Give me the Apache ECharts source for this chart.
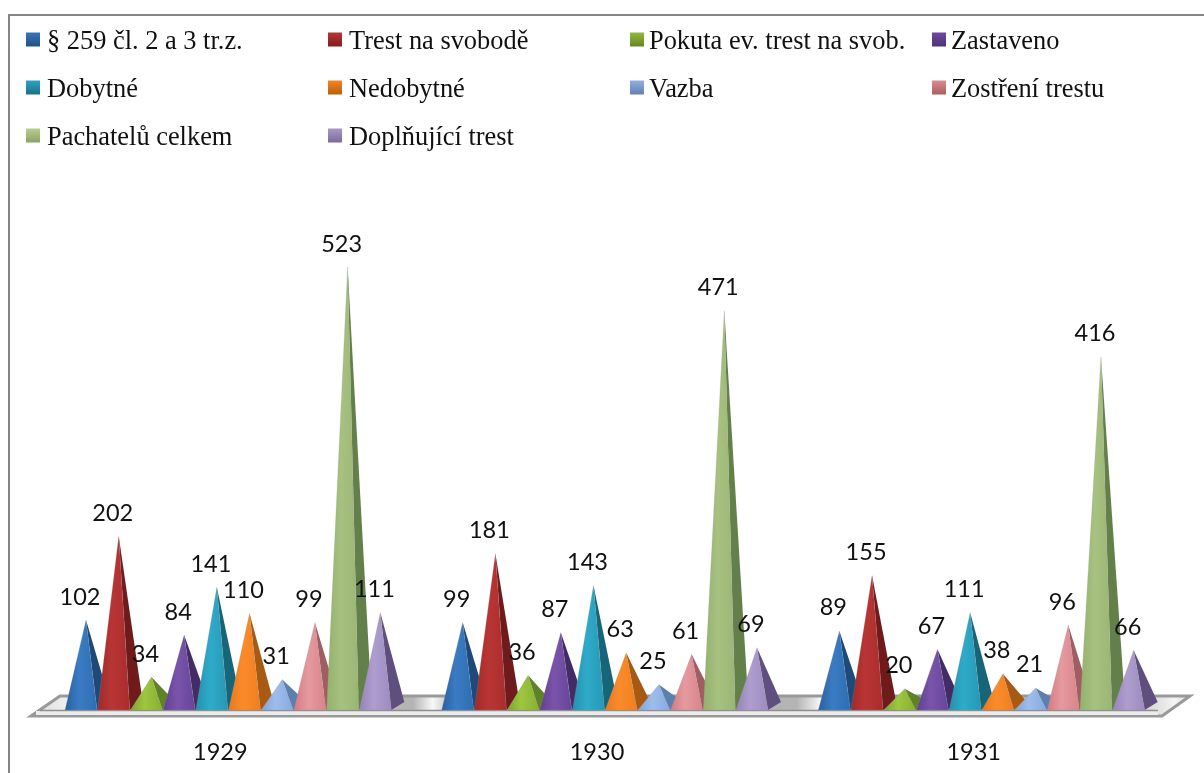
<!DOCTYPE html>
<html><head><meta charset="utf-8">
<style>html,body{margin:0;padding:0;background:#fff}#c{width:1204px;height:773px}</style>
<script src="https://cdn.jsdelivr.net/npm/echarts@6/dist/echarts.min.js"></script>
</head><body><div id="c"></div>
<script>
const years = ['1929','1930','1931'];
const seriesNames = ['§ 259 čl. 2 a 3 tr.z.','Trest na svobodě','Pokuta ev. trest na svob.','Zastaveno','Dobytné','Nedobytné','Vazba','Zostření trestu','Pachatelů celkem','Doplňující trest'];
const paragraf = [102,99,89];
const trest = [202,181,155];
const pokuta = [34,36,20];
const zastaveno = [84,87,67];
const dobytne = [141,143,111];
const nedobytne = [110,63,38];
const vazba = [31,25,21];
const zostreni = [99,61,96];
const pachatelu = [523,471,416];
const doplnujici = [111,69,66];
const values = [paragraf,trest,pokuta,zastaveno,dobytne,nedobytne,vazba,zostreni,pachatelu,doplnujici];
const palette = [
 ['#2a5f9e','#3a7cc4','#2f6cb0','#1d4a78'],
 ['#a12a2a','#b93535','#a92c2c','#6f1b1b'],
 ['#7da32e','#9fc63f','#86ad31','#5f8227'],
 ['#5f3f8f','#7a54ab','#65459a','#432c66'],
 ['#2490ad','#2eabc9','#2797b5','#176578'],
 ['#e8781c','#fb8b2a','#ee7f20','#a95a12'],
 ['#7fa3d6','#9dbdec','#86aade','#5b7faf'],
 ['#d4797f','#e59aa0','#d88389','#a15e62'],
 ['#93b06c','#a6c180','#9ab574','#64804a'],
 ['#9583b8','#ae9dce','#9c8bbf','#5f4f7f']
];
const legendIcon = [['#3a75b8','#264f85'],['#b83535','#7f2020'],['#94b83a','#668526'],['#6f4a9e','#4e3376'],['#2ea3c4','#1c7086'],['#f58424','#b5600f'],['#8fb0e0','#6580ad'],['#dd8c8c','#a66060'],['#b5d08c','#8ca268'],['#a898c8','#7c6b9a']];
const legendX = [26,328,630,932];
const legendY = [29,77,125];
const legendTextPad = [2,2,0,0];
const G = echarts.graphic.LinearGradient;
const step = 32.7, firstOffset = -134.3;
const baseL = 21, baseR = 11, backR = 24, frontDown = 4.5, backUp = 3.5;

const series = seriesNames.map((name,i)=>({
  name, type:'custom', coordinateSystem:'cartesian2d', z:2+i,
  data: years.map((y,j)=>[j,values[i][j]]),
  encode:{x:0,y:1},
  itemStyle:{color:new G(0,0,0,1,[{offset:0,color:legendIcon[i][0]},{offset:0.74,color:legendIcon[i][1]},{offset:1,color:legendIcon[i][1]}])},
  renderItem(params,api){
    const top = api.coord([api.value(0),api.value(1)]);
    const base = api.coord([api.value(0),0]);
    const ax = top[0]+firstOffset+step*i, ay = top[1], fy = base[1]+frontDown, by = base[1]-backUp;
    const c = palette[i];
    return {type:'group',children:[
      {type:'polygon',shape:{points:[[ax,ay],[ax+baseR,fy],[ax+backR,by]]},
       style:{fill:c[3]}},
      {type:'polygon',shape:{points:[[ax,ay],[ax-baseL,fy],[ax+baseR,fy]]},
       style:{fill:new G(0,0,1,0,[{offset:0,color:c[0]},{offset:0.45,color:c[1]},{offset:1,color:c[2]}]),stroke:'rgba(150,150,150,0.25)',lineWidth:0.8}},
      {type:'text',z2:50,style:{text:String(api.value(1)),x:ax-6,y:ay-23,align:'center',verticalAlign:'middle',
        fill:'#111',font:'23.5px Lato'}}
    ]};
  }
}));

const chart = echarts.init(document.getElementById('c'),null,{renderer:'canvas'});
chart.setOption({
  animation:false,
  backgroundColor:'#fff',
  legend: seriesNames.map((n,i)=>({
    data:[n], left:legendX[i%4], top:legendY[Math.floor(i/4)], padding:0, itemWidth:14, itemHeight:19,
    selectedMode:false, icon:'path://M0 0L14 0L14 14L0 14Z M0 19L14 19',
    textStyle:{fontFamily:'Liberation Serif',fontSize:26.4,color:'#111',padding:[0,0,0,legendTextPad[i%4]]}
  })),
  grid:{left:32,width:1130,top:202.5,height:503,containLabel:false},
  xAxis:{type:'category',data:years,axisLine:{show:false},axisTick:{show:false},
    axisLabel:{margin:35,fontFamily:'Lato',fontSize:23.5,color:'#111'}},
  yAxis:{type:'value',min:0,max:600,show:false,splitLine:{show:false}},
  series,
  graphic:[
    {type:'polyline',z:0,shape:{points:[[9,773],[9,15],[1204,15]]},style:{stroke:'#868686',lineWidth:2,fill:null}},
    {type:'polygon',z:0,shape:{points:[[31,716],[60,696],[1190,696],[1162,716]]},
     style:{fill:new G(0,0,1,0,[
        {offset:0,color:'#d8d8d8'},{offset:0.03,color:'#eeeeee'},{offset:0.1,color:'#d0d0d0'},{offset:0.33,color:'#b4b4b4'},
        {offset:0.347,color:'#f8f8f8'},{offset:0.365,color:'#b8b8b8'},{offset:0.66,color:'#b4b4b4'},{offset:0.68,color:'#f4f4f4'},{offset:0.70,color:'#b8b8b8'},
        {offset:0.95,color:'#c4c4c4'},{offset:0.985,color:'#f4f4f4'},{offset:1,color:'#dcdcdc'}]),
       stroke:'#999999',lineWidth:3,lineJoin:'miter'}},
    {type:'rect',z:0,shape:{x:36,y:711,width:1122,height:4},style:{fill:'#ececec'}},
    {type:'line',z:0,shape:{x1:40,y1:710.5,x2:1158,y2:710.5},style:{stroke:'#8e8e8e',lineWidth:1.5}}
  ]
});
</script></body></html>
